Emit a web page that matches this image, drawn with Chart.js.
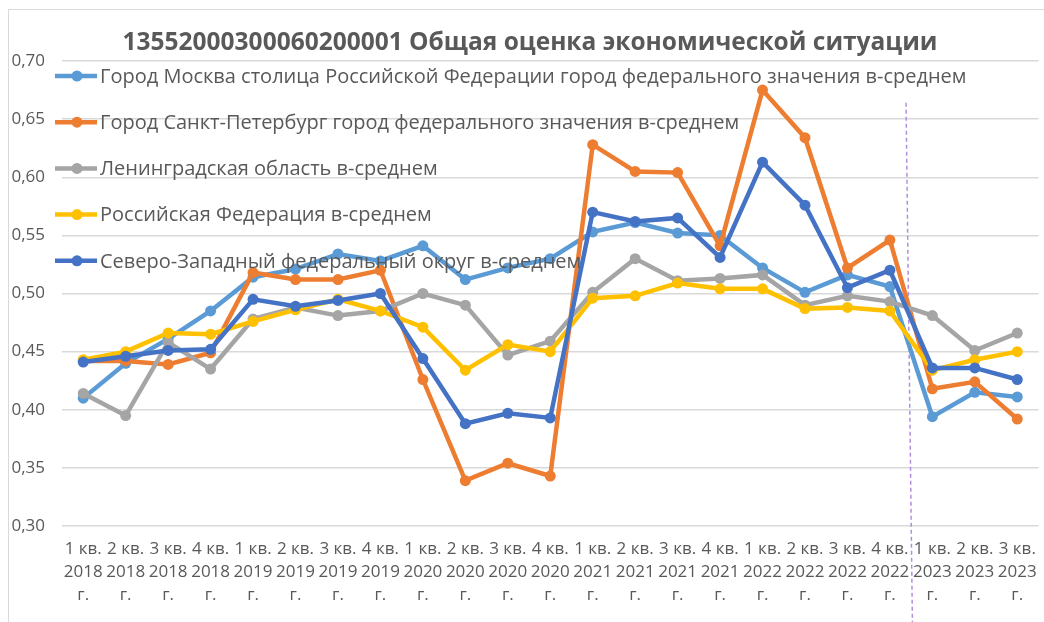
<!DOCTYPE html>
<html lang="ru">
<head>
<meta charset="utf-8">
<title>Общая оценка экономической ситуации</title>
<script src="https://cdn.jsdelivr.net/npm/chart.js@4.4.1/dist/chart.umd.min.js"></script>
<style>
  html, body { margin: 0; padding: 0; background: #fff; }
  #wrap { width: 1044px; height: 622px; }
</style>
</head>
<body>
<div id="wrap"><canvas id="chart" width="1044" height="622"></canvas></div>
<script>
const TITLE = '13552000300060200001 Общая оценка экономической ситуации';

// подписи кварталов (по строкам)
const quarters = [
  ['1 кв.', '2018', 'г.'], ['2 кв.', '2018', 'г.'], ['3 кв.', '2018', 'г.'], ['4 кв.', '2018', 'г.'],
  ['1 кв.', '2019', 'г.'], ['2 кв.', '2019', 'г.'], ['3 кв.', '2019', 'г.'], ['4 кв.', '2019', 'г.'],
  ['1 кв.', '2020', 'г.'], ['2 кв.', '2020', 'г.'], ['3 кв.', '2020', 'г.'], ['4 кв.', '2020', 'г.'],
  ['1 кв.', '2021', 'г.'], ['2 кв.', '2021', 'г.'], ['3 кв.', '2021', 'г.'], ['4 кв.', '2021', 'г.'],
  ['1 кв.', '2022', 'г.'], ['2 кв.', '2022', 'г.'], ['3 кв.', '2022', 'г.'], ['4 кв.', '2022', 'г.'],
  ['1 кв.', '2023', 'г.'], ['2 кв.', '2023', 'г.'], ['3 кв.', '2023', 'г.']
];

const seriesNames = [
  'Город Москва столица Российской Федерации город федерального значения в-среднем',
  'Город Санкт-Петербург город федерального значения в-среднем',
  'Ленинградская область в-среднем',
  'Российская Федерация в-среднем',
  'Северо-Западный федеральный округ в-среднем'
];

const moscow = [0.410, 0.440, 0.461, 0.485, 0.514, 0.521, 0.534, 0.528, 0.541, 0.512, 0.522, 0.530,
  0.553, 0.561, 0.552, 0.550, 0.522, 0.501, 0.516, 0.506, 0.394, 0.415, 0.411];
const spb = [0.442, 0.442, 0.439, 0.449, 0.518, 0.512, 0.512, 0.520, 0.426, 0.339, 0.354, 0.343,
  0.628, 0.605, 0.604, 0.541, 0.675, 0.634, 0.522, 0.546, 0.418, 0.424, 0.392];
const lenOblast = [0.414, 0.395, 0.458, 0.435, 0.478, 0.488, 0.481, 0.485, 0.500, 0.490, 0.447, 0.459,
  0.501, 0.530, 0.511, 0.513, 0.516, 0.490, 0.498, 0.493, 0.481, 0.451, 0.466];
const russia = [0.443, 0.450, 0.466, 0.465, 0.476, 0.486, 0.495, 0.485, 0.471, 0.434, 0.456, 0.450,
  0.496, 0.498, 0.509, 0.504, 0.504, 0.487, 0.488, 0.485, 0.434, 0.443, 0.450];
const nwDistrict = [0.441, 0.446, 0.451, 0.452, 0.495, 0.489, 0.494, 0.500, 0.444, 0.388, 0.397, 0.393,
  0.570, 0.562, 0.565, 0.531, 0.613, 0.576, 0.505, 0.520, 0.436, 0.436, 0.426];

const yTicks = [0.30, 0.35, 0.40, 0.45, 0.50, 0.55, 0.60, 0.65, 0.70];

const colors = ['#5b9bd5', '#ed7d31', '#a5a5a5', '#ffc000', '#4472c4'];
const TEXT = '#595959';
const GRID = '#d9d9d9';
const FONT = '"Open Sans", "Noto Sans", sans-serif';

// пунктирная граница между 2022 и 2023 гг. (по индексу категории)
const DIVIDER_TOP_X = 19.38;
const DIVIDER_BOTTOM_X = 19.53;
const DIVIDER_TOP_Y = 0.664;

function makeDataset(label, data, color, order) {
  return {
    label: label,
    data: data,
    borderColor: color,
    backgroundColor: color,
    borderWidth: 4.5,
    pointRadius: 5.5,
    pointBorderWidth: 0,
    pointBackgroundColor: color,
    tension: 0,
    order: order
  };
}

const decorPlugin = {
  id: 'decor',
  beforeDraw(chart) {
    const ctx = chart.ctx;
    ctx.save();
    // рамка диаграммы
    ctx.strokeStyle = GRID;
    ctx.lineWidth = 1;
    ctx.strokeRect(8.5, 9.5, chart.width + 20, chart.height + 20);
    // заголовок
    ctx.fillStyle = TEXT;
    ctx.font = 'bold 24.5px ' + FONT;
    ctx.textAlign = 'center';
    ctx.textBaseline = 'middle';
    ctx.fillText(TITLE, 530, 43);
    ctx.restore();
  },
  beforeDatasetsDraw(chart) {
    const ctx = chart.ctx;
    const x = chart.scales.x;
    const y = chart.scales.y;
    ctx.save();
    ctx.strokeStyle = '#b18fdc';
    ctx.lineWidth = 1.5;
    ctx.setLineDash([4, 3]);
    ctx.beginPath();
    ctx.moveTo(x.getPixelForValue(DIVIDER_TOP_X), y.getPixelForValue(DIVIDER_TOP_Y));
    ctx.lineTo(x.getPixelForValue(DIVIDER_BOTTOM_X), chart.height);
    ctx.stroke();
    ctx.restore();
  },
  afterDatasetsDraw(chart) {
    // легенда внутри области построения
    const ctx = chart.ctx;
    ctx.save();
    ctx.font = '20px ' + FONT;
    ctx.textBaseline = 'middle';
    ctx.textAlign = 'left';
    chart.data.datasets.forEach((ds, i) => {
      const ly = 76 + i * 46.2;
      ctx.strokeStyle = ds.borderColor;
      ctx.lineWidth = 4.5;
      ctx.beginPath();
      ctx.moveTo(55, ly);
      ctx.lineTo(97, ly);
      ctx.stroke();
      ctx.fillStyle = ds.borderColor;
      ctx.beginPath();
      ctx.arc(77, ly, 5.5, 0, Math.PI * 2);
      ctx.fill();
      ctx.fillStyle = TEXT;
      ctx.fillText(ds.label, 100, ly + 1);
    });
    ctx.restore();
  }
};

const chart = new Chart(document.getElementById('chart'), {
  type: 'line',
  data: {
    labels: quarters,
    datasets: [
      makeDataset(seriesNames[0], moscow, colors[0], 5),
      makeDataset(seriesNames[1], spb, colors[1], 4),
      makeDataset(seriesNames[2], lenOblast, colors[2], 3),
      makeDataset(seriesNames[3], russia, colors[3], 2),
      makeDataset(seriesNames[4], nwDistrict, colors[4], 1)
    ]
  },
  options: {
    responsive: false,
    animation: false,
    layout: { padding: { top: 61, right: 4, bottom: 14, left: 12 } },
    plugins: {
      legend: { display: false },
      title: { display: false },
      tooltip: { enabled: false }
    },
    scales: {
      x: {
        offset: true,
        grid: { display: false, drawTicks: false },
        border: { display: false },
        afterFit(axis) {
          axis.height = 82;
          axis.paddingLeft = 0;
          axis.paddingRight = 0;
        },
        ticks: {
          color: TEXT,
          font: { family: FONT, size: 17, lineHeight: 1.35 },
          padding: 12,
          maxRotation: 0,
          autoSkip: false
        }
      },
      y: {
        min: yTicks[0],
        max: yTicks[yTicks.length - 1],
        afterBuildTicks(axis) {
          axis.ticks = yTicks.map(v => ({ value: v }));
        },
        afterFit(axis) {
          axis.width = 50;
        },
        grid: { color: GRID, lineWidth: 1.5, drawTicks: false },
        border: { display: false },
        ticks: {
          color: TEXT,
          font: { family: FONT, size: 17 },
          padding: 17,
          callback: function(value) {
            return value.toFixed(2).replace('.', ',');
          }
        }
      }
    }
  },
  plugins: [decorPlugin]
});
</script>
</body>
</html>
